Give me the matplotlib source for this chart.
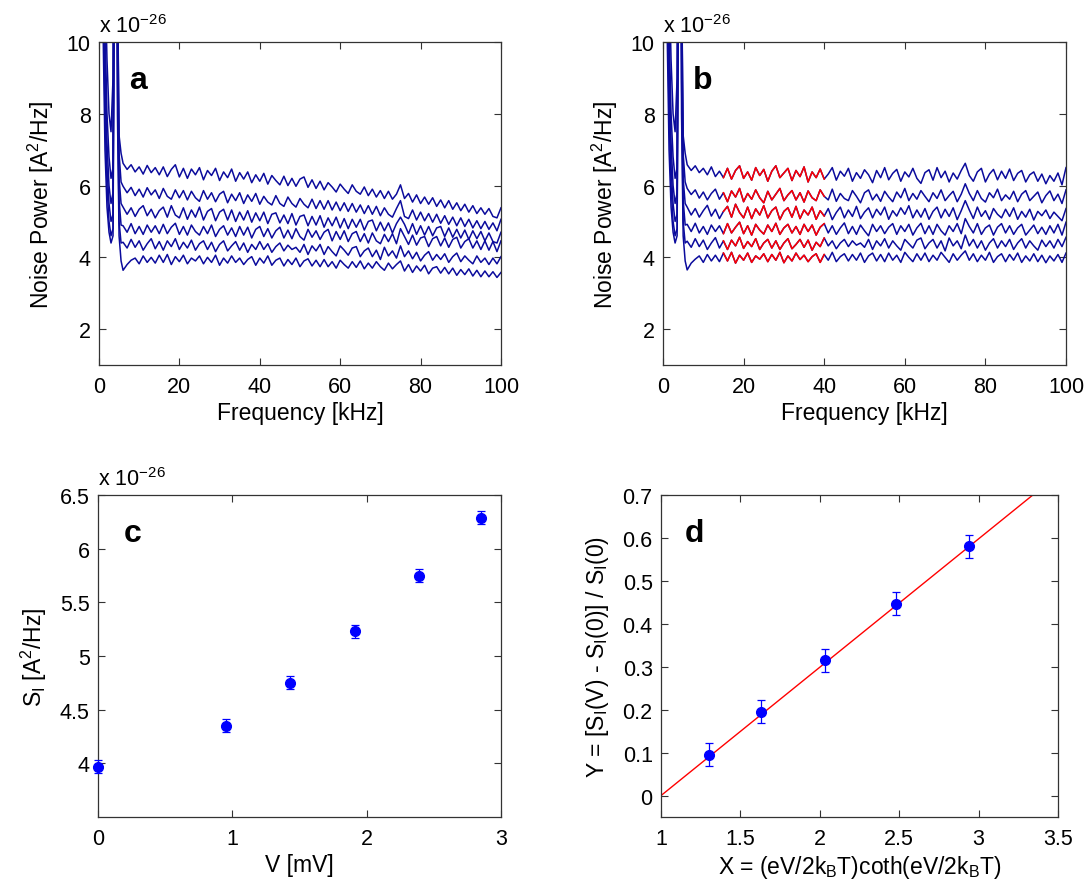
import numpy as np
import matplotlib
matplotlib.use('Agg')
import matplotlib.pyplot as plt
from matplotlib.ticker import FuncFormatter

plt.rcParams['font.family'] = ['Liberation Sans', 'DejaVu Sans']
plt.rcParams['mathtext.fontset'] = 'custom'
plt.rcParams['mathtext.rm'] = 'Liberation Sans'
plt.rcParams['mathtext.it'] = 'Liberation Sans:italic'

# ---- panels a, b: noise spectra (units of 1e-26 A^2/Hz) ----
f_low = [0.25, 0.5, 1.0, 1.5, 2.0, 2.5, 3.0, 3.5, 3.9, 4.2, 4.6, 5.0, 5.5]
f_main = np.arange(6, 101)  # kHz

low_parts = [
    [30, 18, 10.5, 7.0, 5.4, 4.7, 4.4, 4.6, 13, 20, 8.0, 4.6, 3.9],
    [32, 20, 12, 8.0, 6.0, 5.0, 4.6, 4.8, 15, 22, 9.0, 5.0, 4.4],
    [35, 22, 13, 8.8, 6.5, 5.5, 5.0, 5.2, 16, 24, 10, 5.6, 4.9],
    [38, 24, 14, 9.5, 7.2, 6.0, 5.5, 5.8, 18, 26, 11, 6.2, 5.5],
    [40, 26, 15, 10.5, 8.0, 6.8, 6.2, 6.5, 20, 28, 12, 6.9, 6.1],
    [42, 28, 17, 12, 9.5, 8.0, 7.5, 9.0, 22, 30, 12, 7.4, 6.9],
]

# raw spectra (panel a), 6..100 kHz
a1 = [3.64, 3.80, 3.92, 3.98, 3.82, 4.04, 3.86, 4.00, 3.84, 4.06,
      3.86, 4.08, 3.80, 4.02, 3.88, 4.06, 3.82, 3.98, 3.90, 4.04,
      3.82, 4.00, 3.86, 4.06, 3.78, 3.98, 3.84, 4.04, 3.86, 3.98,
      3.80, 3.94, 4.02, 3.78, 3.98, 3.84, 4.04, 3.78, 3.92, 3.98,
      3.76, 3.94, 3.80, 3.98, 3.74, 3.90, 3.96, 3.76, 3.92, 3.74,
      3.94, 3.74, 3.88, 3.70, 3.92, 3.80, 3.70, 3.88, 3.72, 3.90,
      3.68, 3.84, 3.70, 3.88, 3.74, 3.64, 3.84, 3.68, 3.80, 3.90,
      3.62, 3.80, 3.58, 3.76, 3.62, 3.78, 3.54, 3.70, 3.74, 3.56,
      3.72, 3.54, 3.70, 3.50, 3.66, 3.52, 3.68, 3.48, 3.64, 3.46,
      3.62, 3.46, 3.60, 3.44, 3.58]
a2 = [4.42, 4.26, 4.50, 4.28, 4.46, 4.20, 4.38, 4.52, 4.24, 4.44,
      4.20, 4.46, 4.30, 4.52, 4.22, 4.42, 4.26, 4.48, 4.20, 4.38,
      4.46, 4.22, 4.42, 4.16, 4.36, 4.46, 4.18, 4.32, 4.44, 4.20,
      4.40, 4.14, 4.36, 4.22, 4.44, 4.22, 4.38, 4.14, 4.30, 4.40,
      4.18, 4.34, 4.22, 4.28, 4.14, 4.36, 4.08, 4.32, 4.18, 4.36,
      4.08, 4.30, 4.16, 4.04, 4.32, 4.20, 4.06, 4.26, 4.30, 4.02,
      4.18, 4.26, 4.02, 4.20, 3.94, 4.28, 4.04, 4.18, 3.98, 4.32,
      4.02, 4.18, 3.96, 4.14, 3.90, 4.06, 4.16, 3.92, 4.08, 3.94,
      4.10, 3.86, 4.02, 4.12, 3.88, 4.04, 3.92, 3.82, 4.04, 3.86,
      3.98, 3.80, 3.98, 3.82, 4.02]
a3 = [4.88, 4.70, 4.94, 4.66, 4.86, 4.64, 4.90, 4.70, 4.88, 4.66,
      4.92, 4.66, 4.84, 4.95, 4.64, 4.86, 4.62, 4.90, 4.72, 4.62,
      4.86, 4.66, 4.90, 4.58, 4.78, 4.88, 4.62, 4.82, 4.58, 4.86,
      4.62, 4.84, 4.54, 4.78, 4.86, 4.58, 4.80, 4.54, 4.74, 4.84,
      4.54, 4.76, 4.52, 4.80, 4.58, 4.48, 4.78, 4.56, 4.74, 4.50,
      4.70, 4.78, 4.46, 4.72, 4.50, 4.74, 4.44, 4.66, 4.72, 4.44,
      4.66, 4.40, 4.68, 4.46, 4.38, 4.64, 4.44, 4.66, 4.38, 4.80,
      4.58, 4.36, 4.62, 4.34, 4.54, 4.58, 4.30, 4.52, 4.58, 4.32,
      4.54, 4.28, 4.50, 4.56, 4.26, 4.44, 4.52, 4.26, 4.46, 4.22,
      4.46, 4.20, 4.44, 4.16, 4.46]
a4 = [5.40, 5.20, 5.38, 5.14, 5.34, 5.44, 5.16, 5.34, 5.10, 5.30,
      5.40, 5.12, 5.44, 5.18, 5.10, 5.38, 5.06, 5.32, 5.12, 5.40,
      5.04, 5.28, 5.36, 5.02, 5.26, 5.34, 5.04, 5.32, 5.00, 5.26,
      5.04, 5.30, 4.98, 5.24, 5.02, 5.26, 4.94, 5.20, 5.24, 4.96,
      5.18, 4.94, 5.22, 4.90, 5.14, 5.18, 4.88, 5.14, 4.90, 5.16,
      4.84, 5.10, 4.88, 5.12, 4.82, 5.08, 4.80, 5.06, 4.84, 5.06,
      4.76, 5.00, 5.04, 4.74, 4.98, 4.74, 4.96, 4.68, 4.94, 5.12,
      4.92, 4.66, 4.94, 4.64, 4.88, 4.62, 4.86, 4.60, 4.82, 4.86,
      4.58, 4.82, 4.56, 4.78, 4.54, 4.76, 4.50, 4.74, 4.52, 4.72,
      4.46, 4.68, 4.44, 4.40, 4.70]
a5 = [5.98, 5.80, 5.95, 5.72, 5.90, 5.68, 5.94, 5.74, 5.88, 5.64,
      5.92, 5.70, 5.62, 5.88, 5.66, 5.86, 5.60, 5.84, 5.66, 5.56,
      5.86, 5.62, 5.80, 5.55, 5.76, 5.84, 5.52, 5.76, 5.58, 5.80,
      5.50, 5.74, 5.56, 5.78, 5.48, 5.70, 5.54, 5.46, 5.72, 5.50,
      5.42, 5.68, 5.50, 5.40, 5.64, 5.48, 5.38, 5.62, 5.36, 5.58,
      5.34, 5.58, 5.32, 5.54, 5.30, 5.52, 5.28, 5.50, 5.26, 5.46,
      5.22, 5.44, 5.20, 5.42, 5.16, 5.38, 5.20, 5.12, 5.36, 5.58,
      5.14, 5.08, 5.32, 5.04, 5.26, 5.02, 5.22, 4.98, 5.20, 4.95,
      5.16, 4.92, 5.12, 4.88, 5.10, 4.86, 5.06, 4.82, 5.02, 4.80,
      5.00, 4.78, 4.96, 4.74, 5.06]
a6 = [6.62, 6.45, 6.58, 6.38, 6.52, 6.32, 6.56, 6.36, 6.50, 6.30,
      6.52, 6.25, 6.45, 6.58, 6.24, 6.48, 6.20, 6.46, 6.30, 6.50,
      6.16, 6.42, 6.28, 6.48, 6.14, 6.38, 6.22, 6.46, 6.12, 6.36,
      6.18, 6.38, 6.08, 6.30, 6.12, 6.34, 6.04, 6.28, 6.14, 6.02,
      6.26, 6.00, 6.20, 5.98, 6.18, 6.24, 5.95, 6.16, 5.92, 6.12,
      5.88, 6.08, 5.96, 5.82, 6.04, 5.90, 5.78, 6.02, 5.84, 5.76,
      5.96, 5.72, 5.90, 5.68, 5.86, 5.64, 5.84, 5.62, 5.76, 6.02,
      5.64, 5.78, 5.54, 5.74, 5.50, 5.68, 5.48, 5.66, 5.42, 5.60,
      5.38, 5.58, 5.34, 5.52, 5.30, 5.48, 5.26, 5.44, 5.22, 5.38,
      5.20, 5.36, 5.14, 5.10, 5.38]

# corrected spectra (panel b), 6..100 kHz
b1 = [3.65, 3.84, 3.95, 4.04, 3.86, 4.08, 3.90, 4.06, 3.88, 4.12,
      3.90, 4.14, 3.84, 4.06, 3.92, 4.12, 3.86, 4.04, 3.95, 4.10,
      3.88, 4.08, 3.92, 4.14, 3.85, 4.04, 3.90, 4.12, 3.94, 4.06,
      3.88, 4.02, 4.10, 3.86, 4.08, 3.92, 4.14, 3.88, 4.02, 4.10,
      3.90, 4.08, 3.92, 4.12, 3.86, 4.04, 4.12, 3.90, 4.08, 3.88,
      4.12, 3.92, 4.06, 3.86, 4.14, 4.00, 3.88, 4.10, 3.92, 4.12,
      3.88, 4.06, 3.92, 4.14, 4.00, 3.86, 4.10, 3.92, 4.06, 4.18,
      3.92, 4.10, 3.88, 4.06, 3.92, 4.14, 3.86, 4.02, 4.10, 3.88,
      4.08, 3.92, 4.12, 3.86, 4.04, 3.90, 4.10, 3.88, 4.06, 3.85,
      4.04, 3.90, 4.08, 3.86, 4.12]
b2 = [4.45, 4.28, 4.52, 4.30, 4.48, 4.22, 4.40, 4.55, 4.26, 4.46,
      4.22, 4.48, 4.32, 4.56, 4.25, 4.44, 4.30, 4.52, 4.22, 4.40,
      4.50, 4.26, 4.46, 4.22, 4.40, 4.52, 4.24, 4.36, 4.50, 4.28,
      4.48, 4.20, 4.42, 4.30, 4.54, 4.32, 4.46, 4.24, 4.40, 4.50,
      4.30, 4.46, 4.34, 4.40, 4.28, 4.50, 4.22, 4.46, 4.32, 4.52,
      4.26, 4.46, 4.32, 4.20, 4.50, 4.38, 4.26, 4.48, 4.54, 4.24,
      4.40, 4.50, 4.26, 4.46, 4.18, 4.54, 4.32, 4.46, 4.24, 4.62,
      4.32, 4.50, 4.26, 4.46, 4.20, 4.40, 4.52, 4.26, 4.46, 4.30,
      4.50, 4.22, 4.40, 4.52, 4.26, 4.46, 4.32, 4.20, 4.48, 4.30,
      4.46, 4.26, 4.50, 4.30, 4.56]
b3 = [4.92, 4.72, 4.95, 4.68, 4.86, 4.64, 4.90, 4.72, 4.88, 4.66,
      4.94, 4.68, 4.84, 4.98, 4.66, 4.88, 4.62, 4.92, 4.76, 4.65,
      4.90, 4.72, 4.95, 4.64, 4.82, 4.92, 4.68, 4.86, 4.64, 4.92,
      4.72, 4.90, 4.62, 4.84, 4.94, 4.68, 4.88, 4.64, 4.82, 4.96,
      4.66, 4.86, 4.64, 4.90, 4.74, 4.60, 4.92, 4.72, 4.88, 4.66,
      4.84, 4.94, 4.64, 4.88, 4.72, 4.92, 4.62, 4.82, 4.95, 4.66,
      4.88, 4.64, 4.92, 4.74, 4.62, 4.88, 4.72, 4.94, 4.66, 5.08,
      4.86, 4.68, 4.94, 4.64, 4.82, 4.90, 4.62, 4.84, 4.94, 4.68,
      4.88, 4.64, 4.82, 4.92, 4.62, 4.76, 4.90, 4.66, 4.84, 4.64,
      4.88, 4.68, 4.92, 4.62, 4.98]
b4 = [5.40, 5.18, 5.36, 5.12, 5.30, 5.45, 5.15, 5.34, 5.08, 5.28,
      5.42, 5.12, 5.48, 5.25, 5.10, 5.40, 5.08, 5.35, 5.18, 5.44,
      5.10, 5.30, 5.40, 5.05, 5.28, 5.38, 5.12, 5.42, 5.08, 5.32,
      5.18, 5.40, 5.06, 5.30, 5.15, 5.36, 5.05, 5.25, 5.40, 5.10,
      5.32, 5.14, 5.42, 5.08, 5.26, 5.38, 5.10, 5.34, 5.18, 5.40,
      5.06, 5.30, 5.15, 5.38, 5.20, 5.44, 5.10, 5.32, 5.12, 5.36,
      5.06, 5.28, 5.40, 5.10, 5.34, 5.14, 5.38, 5.05, 5.30, 5.58,
      5.32, 5.08, 5.40, 5.14, 5.30, 5.06, 5.36, 5.20, 5.10, 5.34,
      5.14, 5.38, 5.06, 5.28, 5.12, 5.34, 5.04, 5.28, 5.16, 5.32,
      5.08, 5.26, 5.14, 5.02, 5.36]
b5 = [5.92, 5.75, 5.88, 5.65, 5.82, 5.60, 5.78, 5.90, 5.62, 5.80,
      5.55, 5.85, 5.68, 5.92, 5.55, 5.78, 5.62, 5.88, 5.66, 5.52,
      5.84, 5.60, 5.76, 5.92, 5.58, 5.74, 5.86, 5.60, 5.80, 5.54,
      5.85, 5.66, 5.58, 5.88, 5.70, 5.60, 5.90, 5.56, 5.78, 5.64,
      5.58, 5.86, 5.70, 5.52, 5.80, 5.88, 5.60, 5.76, 5.56, 5.84,
      5.68, 5.55, 5.82, 5.66, 5.92, 5.58, 5.78, 5.62, 5.86, 5.70,
      5.55, 5.80, 5.64, 5.88, 5.58, 5.72, 5.84, 5.55, 5.76, 6.05,
      5.78, 5.58, 5.86, 5.64, 5.54, 5.80, 5.66, 5.90, 5.58, 5.74,
      5.62, 5.84, 5.55, 5.76, 5.86, 5.58, 5.70, 5.82, 5.52, 5.72,
      5.85, 5.58, 5.76, 5.50, 5.88]
b6 = [6.58, 6.42, 6.55, 6.36, 6.48, 6.30, 6.52, 6.25, 6.40, 6.22,
      6.48, 6.18, 6.42, 6.55, 6.20, 6.38, 6.15, 6.50, 6.28, 6.45,
      6.12, 6.40, 6.55, 6.22, 6.35, 6.48, 6.14, 6.42, 6.25, 6.52,
      6.10, 6.38, 6.22, 6.46, 6.18, 6.32, 6.50, 6.15, 6.40, 6.26,
      6.48, 6.12, 6.36, 6.20, 6.44, 6.30, 6.08, 6.42, 6.22, 6.50,
      6.16, 6.34, 6.45, 6.12, 6.38, 6.24, 6.48, 6.20, 6.06, 6.36,
      6.44, 6.15, 6.50, 6.22, 6.40, 6.10, 6.35, 6.18, 6.42, 6.62,
      6.28, 6.12, 6.38, 6.48, 6.10, 6.32, 6.45, 6.16, 6.40, 6.20,
      6.46, 6.14, 6.34, 6.42, 6.10, 6.30, 6.38, 6.12, 6.32, 6.05,
      6.28, 6.12, 6.35, 6.02, 6.50]

raw_spectra = [a1, a2, a3, a4, a5, a6]
corr_spectra = [b1, b2, b3, b4, b5, b6]
fit_window = (15, 40)  # kHz, highlighted in red

# ---- panel c ----
V_mV = [0.0, 0.95, 1.43, 1.91, 2.39, 2.85]
S_I = [3.97, 4.35, 4.75, 5.23, 5.75, 6.29]
S_I_err = [0.06, 0.06, 0.06, 0.06, 0.06, 0.06]

# ---- panel d ----
X_d = [1.30, 1.63, 2.03, 2.48, 2.94]
Y_d = [0.095, 0.195, 0.315, 0.447, 0.581]
Y_err = [0.027, 0.027, 0.027, 0.027, 0.027]
fit_slope = 0.299
fit_icept = -0.299

navy = '#0b0b9c'
tick_fs = 15.5
lab_fs = 16.5

fig = plt.figure(figsize=(10.91, 8.95), dpi=100)
ax_a = fig.add_axes([0.0907, 0.591, 0.3685, 0.361])
ax_b = fig.add_axes([0.6077, 0.591, 0.3694, 0.361])
ax_c = fig.add_axes([0.0898, 0.086, 0.3694, 0.3598])
ax_d = fig.add_axes([0.6059, 0.086, 0.3639, 0.3598])

fmt = FuncFormatter(lambda v, p: '%g' % round(v, 6))


def style(ax):
    ax.tick_params(direction='in', top=True, right=True, labelsize=tick_fs,
                   length=5, width=0.8, color='#333333')
    ax.tick_params(axis='x', pad=8)
    ax.tick_params(axis='y', pad=6)
    for s in ax.spines.values():
        s.set_color('#333333')
        s.set_linewidth(0.9)
    ax.xaxis.set_major_formatter(fmt)
    ax.yaxis.set_major_formatter(fmt)


for ax, spectra, letter in [(ax_a, raw_spectra, 'a'), (ax_b, corr_spectra, 'b')]:
    for low, vals in zip(low_parts, spectra):
        f = np.concatenate([f_low, f_main])
        s = np.concatenate([low, vals])
        ax.plot(f, s, color=navy, lw=1.1)
        if letter == 'b':
            m = (f >= fit_window[0]) & (f <= fit_window[1])
            ax.plot(f[m], s[m], color='red', lw=1.1)
    ax.set_xlim(0, 100)
    ax.set_ylim(1, 10)
    ax.set_xticks([0, 20, 40, 60, 80, 100])
    ax.set_yticks([2, 4, 6, 8, 10])
    style(ax)
    ax.set_xlabel('Frequency [kHz]', fontsize=lab_fs, labelpad=3)
    ax.set_ylabel('Noise Power [A$^2$/Hz]', fontsize=lab_fs, labelpad=8)
    ax.text(0.0, 1.015, 'x 10$^{-26}$', transform=ax.transAxes, fontsize=tick_fs,
            ha='left', va='bottom')
    ax.text(0.075, 0.93, letter, transform=ax.transAxes, fontsize=23,
            fontweight='bold', ha='left', va='top')

# panel c
ax_c.errorbar(V_mV, S_I, yerr=S_I_err, fmt='o', color='blue', ms=7,
              elinewidth=0.9, capsize=3, capthick=0.9, clip_on=False, zorder=3)
ax_c.set_xlim(0, 3)
ax_c.set_ylim(3.5, 6.5)
ax_c.set_xticks([0, 1, 2, 3])
ax_c.set_yticks([4, 4.5, 5, 5.5, 6, 6.5])
style(ax_c)
ax_c.set_xlabel('V [mV]', fontsize=lab_fs, labelpad=3)
ax_c.set_ylabel('S$_\\mathrm{I}$ [A$^2$/Hz]', fontsize=lab_fs, labelpad=8)
ax_c.text(0.0, 1.015, 'x 10$^{-26}$', transform=ax_c.transAxes, fontsize=tick_fs,
          ha='left', va='bottom')
ax_c.text(0.065, 0.93, 'c', transform=ax_c.transAxes, fontsize=23,
          fontweight='bold', ha='left', va='top')

# panel d
xl = np.array([1.0, 3.5])
ax_d.plot(xl, fit_slope * xl + fit_icept, color='red', lw=1.0)
ax_d.errorbar(X_d, Y_d, yerr=Y_err, fmt='o', color='blue', ms=7,
              elinewidth=0.9, capsize=3, capthick=0.9, zorder=3)
ax_d.set_xlim(1, 3.5)
ax_d.set_ylim(-0.05, 0.7)
ax_d.set_xticks([1, 1.5, 2, 2.5, 3, 3.5])
ax_d.set_yticks([0, 0.1, 0.2, 0.3, 0.4, 0.5, 0.6, 0.7])
style(ax_d)
ax_d.set_xlabel('X = (eV/2k$_\\mathrm{B}$T)coth(eV/2k$_\\mathrm{B}$T)', fontsize=lab_fs, labelpad=3)
ax_d.set_ylabel('Y = [S$_\\mathrm{I}$(V) - S$_\\mathrm{I}$(0)] / S$_\\mathrm{I}$(0)',
                fontsize=lab_fs, labelpad=8)
ax_d.text(0.06, 0.93, 'd', transform=ax_d.transAxes, fontsize=23,
          fontweight='bold', ha='left', va='top')

fig.savefig('out.png', dpi=100)
